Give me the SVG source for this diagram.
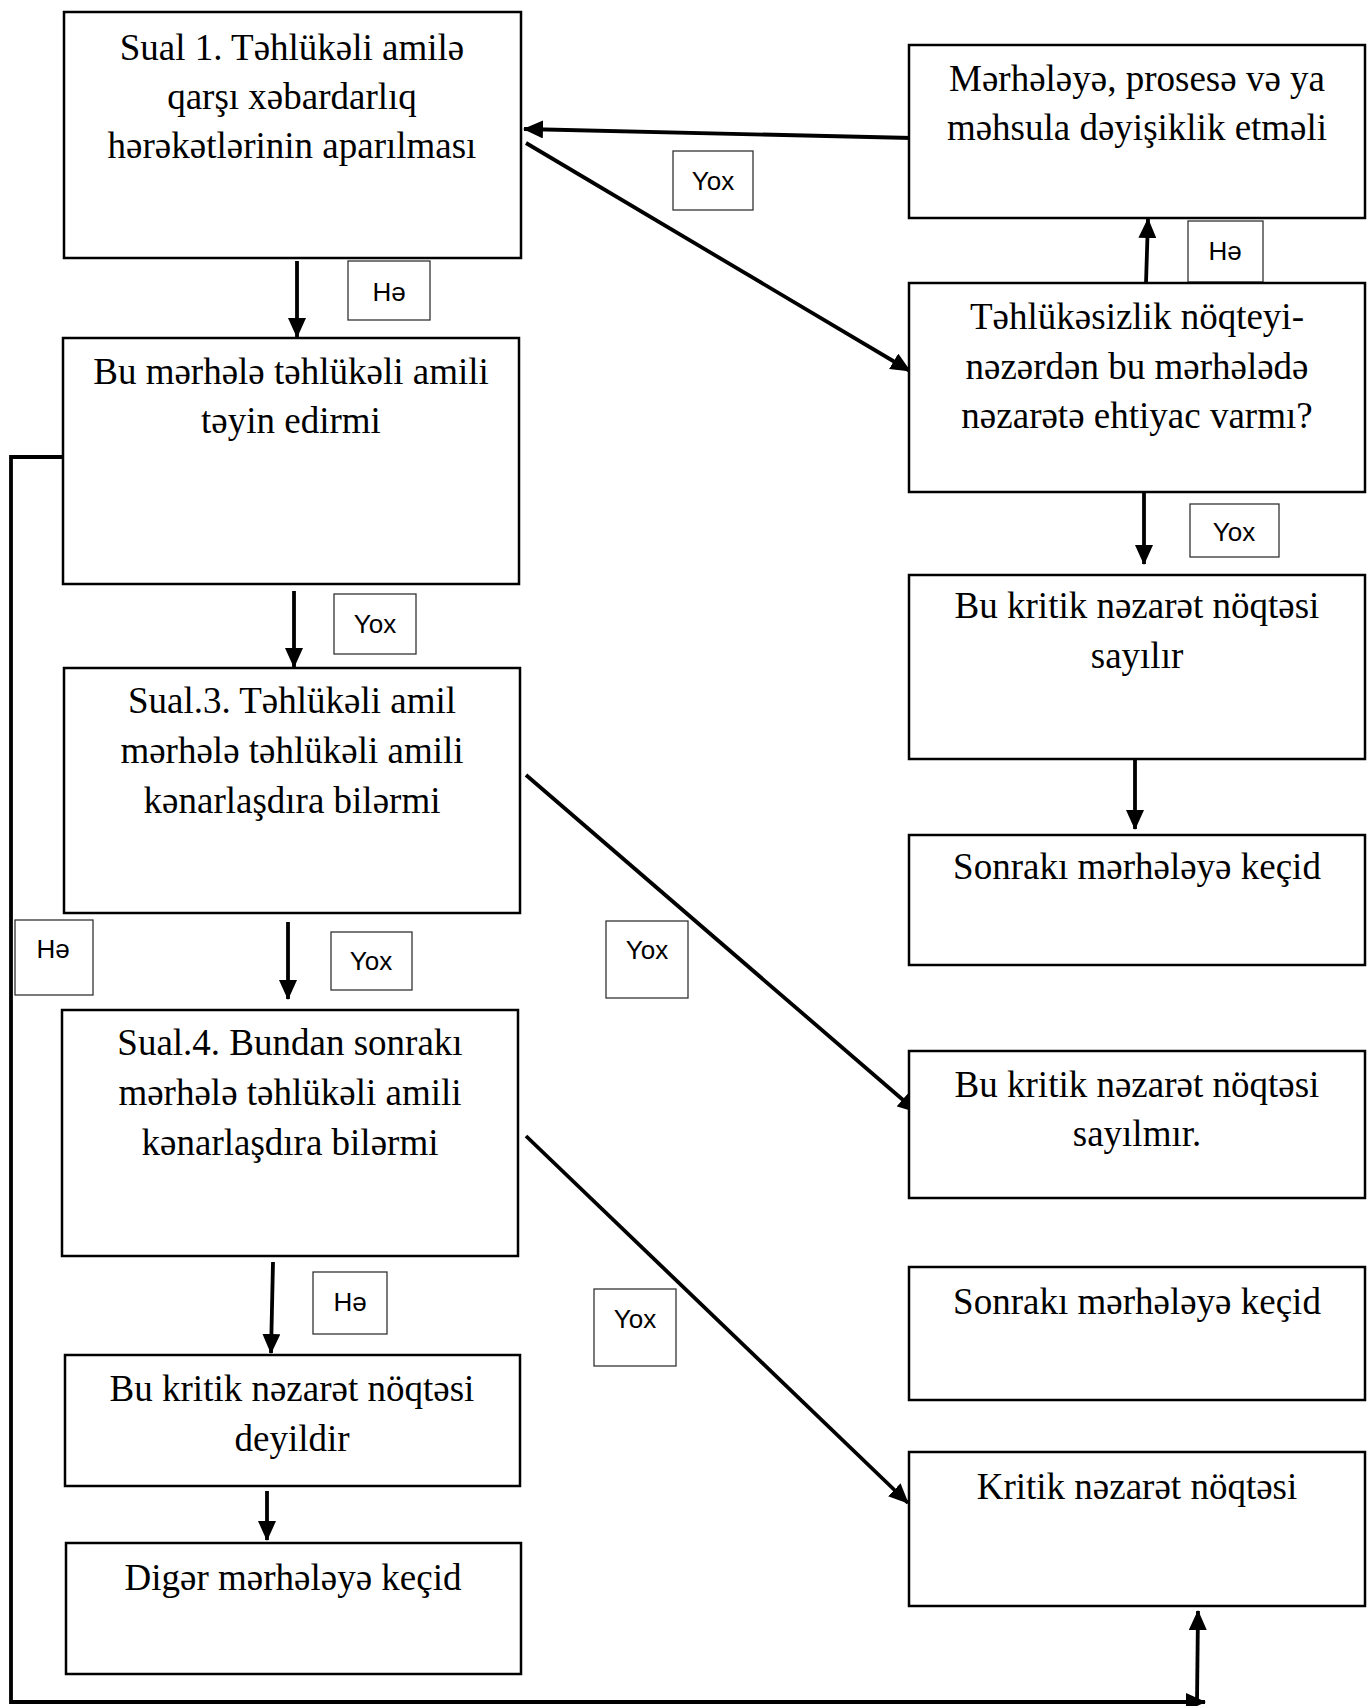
<svg xmlns="http://www.w3.org/2000/svg" width="1368" height="1706" viewBox="0 0 1368 1706">
<style>
.box{fill:#fff;stroke:#000;stroke-width:2.5}
.t{font-family:"Liberation Serif","Times New Roman",serif;font-size:37px;fill:#000;text-anchor:middle}
.lb{fill:#fff;stroke:#333;stroke-width:1.3}
.lt{font-family:"Liberation Sans",Arial,sans-serif;font-size:26px;fill:#000;text-anchor:middle}
.c{fill:none;stroke:#000;stroke-width:3.8}
</style>
<defs>
<marker id="ah" markerUnits="userSpaceOnUse" markerWidth="20" markerHeight="18" refX="19" refY="9" orient="auto">
<path d="M0,0 L20,9 L0,18 Z" fill="#000"/>
</marker>
</defs>
<rect width="1368" height="1706" fill="#fff"/>
<g id="connectors">
<line class="c" x1="297" y1="261" x2="297" y2="337" marker-end="url(#ah)"/>
<line class="c" x1="294" y1="591" x2="294" y2="667" marker-end="url(#ah)"/>
<line class="c" x1="288" y1="922" x2="288" y2="999" marker-end="url(#ah)"/>
<line class="c" x1="273" y1="1262" x2="271" y2="1353" marker-end="url(#ah)"/>
<line class="c" x1="267" y1="1491" x2="267" y2="1540" marker-end="url(#ah)"/>
<line class="c" x1="912" y1="138" x2="524" y2="129" marker-end="url(#ah)"/>
<line class="c" x1="526" y1="143" x2="910" y2="371" marker-end="url(#ah)"/>
<line class="c" x1="1146" y1="283" x2="1148" y2="219" marker-end="url(#ah)"/>
<line class="c" x1="1144" y1="487" x2="1144" y2="564" marker-end="url(#ah)"/>
<line class="c" x1="1135" y1="751" x2="1135" y2="829" marker-end="url(#ah)"/>
<line class="c" x1="526" y1="775" x2="917" y2="1112" marker-end="url(#ah)"/>
<line class="c" x1="526" y1="1136" x2="908" y2="1503" marker-end="url(#ah)"/>
<polyline class="c" points="63,457 11,457 11,1702 1205,1702" marker-end="url(#ah)"/>
<line class="c" x1="1197" y1="1702" x2="1198" y2="1611" marker-end="url(#ah)"/>
</g>
<g id="labels">
<g id="lbl-he-1"><rect class="lb" x="348" y="261" width="82" height="59"/><text class="lt" x="389" y="301">Hə</text></g>
<g id="lbl-yox-1"><rect class="lb" x="334" y="594" width="82" height="60"/><text class="lt" x="375" y="633">Yox</text></g>
<g id="lbl-yox-2"><rect class="lb" x="331" y="932" width="81" height="58"/><text class="lt" x="371" y="970">Yox</text></g>
<g id="lbl-he-2"><rect class="lb" x="313" y="1272" width="74" height="62"/><text class="lt" x="350" y="1311">Hə</text></g>
<g id="lbl-he-3"><rect class="lb" x="15" y="920" width="78" height="75"/><text class="lt" x="53" y="958">Hə</text></g>
<g id="lbl-yox-3"><rect class="lb" x="673" y="151" width="80" height="59"/><text class="lt" x="713" y="190">Yox</text></g>
<g id="lbl-he-4"><rect class="lb" x="1188" y="221" width="75" height="61"/><text class="lt" x="1225" y="260">Hə</text></g>
<g id="lbl-yox-4"><rect class="lb" x="1190" y="504" width="89" height="53"/><text class="lt" x="1234" y="541">Yox</text></g>
<g id="lbl-yox-5"><rect class="lb" x="606" y="921" width="82" height="77"/><text class="lt" x="647" y="959">Yox</text></g>
<g id="lbl-yox-6"><rect class="lb" x="594" y="1289" width="82" height="77"/><text class="lt" x="635" y="1328">Yox</text></g>
</g>
<g id="node-sual1"><rect class="box" x="64" y="12" width="457" height="246"/>
<text class="t" x="292" y="60">Sual 1. Təhlükəli amilə</text>
<text class="t" x="292" y="109">qarşı xəbardarlıq</text>
<text class="t" x="292" y="158">hərəkətlərinin aparılması</text></g>
<g id="node-bu-merhele"><rect class="box" x="63" y="338" width="456" height="246"/>
<text class="t" x="291" y="384">Bu mərhələ təhlükəli amili</text>
<text class="t" x="291" y="433">təyin edirmi</text></g>
<g id="node-sual3"><rect class="box" x="64" y="668" width="456" height="245"/>
<text class="t" x="292" y="713">Sual.3. Təhlükəli amil</text>
<text class="t" x="292" y="763">mərhələ təhlükəli amili</text>
<text class="t" x="292" y="813">kənarlaşdıra bilərmi</text></g>
<g id="node-sual4"><rect class="box" x="62" y="1010" width="456" height="246"/>
<text class="t" x="290" y="1055">Sual.4. Bundan sonrakı</text>
<text class="t" x="290" y="1105">mərhələ təhlükəli amili</text>
<text class="t" x="290" y="1155">kənarlaşdıra bilərmi</text></g>
<g id="node-deyildir"><rect class="box" x="65" y="1355" width="455" height="131"/>
<text class="t" x="292" y="1401">Bu kritik nəzarət nöqtəsi</text>
<text class="t" x="292" y="1451">deyildir</text></g>
<g id="node-diger"><rect class="box" x="66" y="1543" width="455" height="131"/>
<text class="t" x="293" y="1590">Digər mərhələyə keçid</text></g>
<g id="node-deyisiklik"><rect class="box" x="909" y="45" width="456" height="173"/>
<text class="t" x="1137" y="91">Mərhələyə, prosesə və ya</text>
<text class="t" x="1137" y="140">məhsula dəyişiklik etməli</text></g>
<g id="node-tehlukesizlik"><rect class="box" x="909" y="283" width="456" height="209"/>
<text class="t" x="1137" y="329">Təhlükəsizlik nöqteyi-</text>
<text class="t" x="1137" y="379">nəzərdən bu mərhələdə</text>
<text class="t" x="1137" y="428">nəzarətə ehtiyac varmı?</text></g>
<g id="node-sayilir"><rect class="box" x="909" y="575" width="456" height="184"/>
<text class="t" x="1137" y="618">Bu kritik nəzarət nöqtəsi</text>
<text class="t" x="1137" y="668">sayılır</text></g>
<g id="node-sonraki1"><rect class="box" x="909" y="835" width="456" height="130"/>
<text class="t" x="1137" y="879">Sonrakı mərhələyə keçid</text></g>
<g id="node-sayilmir"><rect class="box" x="909" y="1051" width="456" height="147"/>
<text class="t" x="1137" y="1097">Bu kritik nəzarət nöqtəsi</text>
<text class="t" x="1137" y="1146">sayılmır.</text></g>
<g id="node-sonraki2"><rect class="box" x="909" y="1267" width="456" height="133"/>
<text class="t" x="1137" y="1314">Sonrakı mərhələyə keçid</text></g>
<g id="node-kritik"><rect class="box" x="909" y="1452" width="456" height="154"/>
<text class="t" x="1137" y="1499">Kritik nəzarət nöqtəsi</text></g>
</svg>
